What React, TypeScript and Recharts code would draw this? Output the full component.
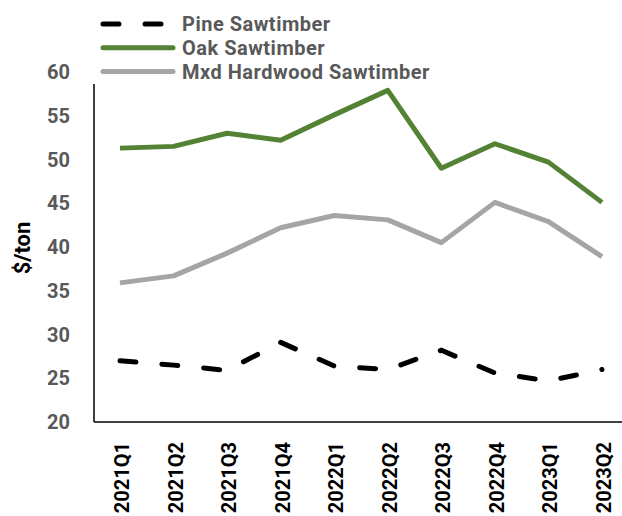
import React from 'react';
import { LineChart, Line, XAxis, YAxis, Label } from 'recharts';

const quarters = ['2021Q1', '2021Q2', '2021Q3', '2021Q4', '2022Q1', '2022Q2', '2022Q3', '2022Q4', '2023Q1', '2023Q2'];
const pine = [27.0, 26.5, 25.9, 29.1, 26.4, 26.0, 28.2, 25.6, 24.7, 26.0];
const oak = [51.3, 51.5, 53.0, 52.2, 55.1, 57.9, 49.0, 51.8, 49.7, 45.1];
const mxd = [35.9, 36.7, 39.3, 42.2, 43.6, 43.1, 40.5, 45.1, 42.9, 38.9];
const yTicks = [20, 25, 30, 35, 40, 45, 50, 55, 60];

const data = quarters.map((q, i) => ({ q, pine: pine[i], oak: oak[i], mxd: mxd[i] }));

const FONT = 'Roboto, sans-serif';
const GRAY_TEXT = '#595959';

const legendItems = [
  { label: 'Pine Sawtimber', color: '#000000', dash: true },
  { label: 'Oak Sawtimber', color: '#548235', dash: false },
  { label: 'Mxd Hardwood Sawtimber', color: '#A5A5A5', dash: false },
];

const LegendOverlay = () => (
  <svg width={460} height={85} style={{ position: 'absolute', left: 0, top: 0, overflow: 'visible' }}>
    {legendItems.map((it, i) => {
      const y = 24 + i * 23.8;
      return (
        <g key={it.label}>
          <line
            x1={103}
            x2={173}
            y1={y}
            y2={y}
            stroke={it.color}
            strokeWidth={5}
            strokeLinecap="round"
            strokeDasharray={it.dash ? '16 26' : undefined}
          />
          <text
            x={182}
            y={y + 7}
            fontFamily={FONT}
            fontWeight={700}
            fontSize={20}
            letterSpacing={0.5}
            fill={GRAY_TEXT}
          >
            {it.label}
          </text>
        </g>
      );
    })}
  </svg>
);

const XTick = (props: any) => {
  const { x, y, payload } = props;
  return (
    <text
      x={x}
      y={y}
      transform={`rotate(-90, ${x}, ${y})`}
      textAnchor="end"
      dominantBaseline="central"
      dx={-12}
      dy={2}
      fontFamily={FONT}
      fontWeight={700}
      fontSize={20}
      fill="#000000"
    >
      {payload.value}
    </text>
  );
};

const YLabel = (props: any) => {
  const { viewBox } = props;
  const cy = viewBox.y + viewBox.height / 2 + 1;
  const cx = 22;
  return (
    <text
      x={cx}
      y={cy}
      transform={`rotate(-90, ${cx}, ${cy})`}
      textAnchor="middle"
      dominantBaseline="central"
      fontFamily={FONT}
      fontWeight={700}
      fontSize={22}
      fill="#000"
    >
      $/ton
    </text>
  );
};

export default function App() {
  return (
    <div style={{ position: 'absolute', left: 0, top: 0, width: 622, height: 516, overflow: 'hidden', background: '#fff' }}>
      <LineChart width={630} height={516} data={data} margin={{ top: 72, right: 2, bottom: 0, left: 0 }}>
        <XAxis
          dataKey="q"
          height={94}
          tick={<XTick />}
          tickLine={false}
          axisLine={{ stroke: '#000', strokeWidth: 1.5 }}
          interval={0}
          padding={{ left: 26, right: 26 }}
        />
        <YAxis
          width={94}
          domain={[20, 60]}
          ticks={yTicks}
          interval={0}
          tickLine={false}
          tickSize={0}
          tickMargin={24}
          axisLine={{ stroke: '#000', strokeWidth: 1.5, strokeDasharray: '0 12 500' }}
          tick={{ fontFamily: FONT, fontWeight: 700, fontSize: 20, fill: GRAY_TEXT }}
        >
          <Label content={<YLabel />} />
        </YAxis>
        <Line
          dataKey="pine"
          stroke="#000000"
          strokeWidth={5}
          strokeDasharray="16 26"
          strokeLinecap="round"
          dot={false}
          isAnimationActive={false}
        />
        <Line dataKey="oak" stroke="#548235" strokeWidth={5} dot={false} isAnimationActive={false} strokeLinejoin="round" />
        <Line dataKey="mxd" stroke="#A5A5A5" strokeWidth={5} dot={false} isAnimationActive={false} strokeLinejoin="round" />
      </LineChart>
      <LegendOverlay />
    </div>
  );
}
